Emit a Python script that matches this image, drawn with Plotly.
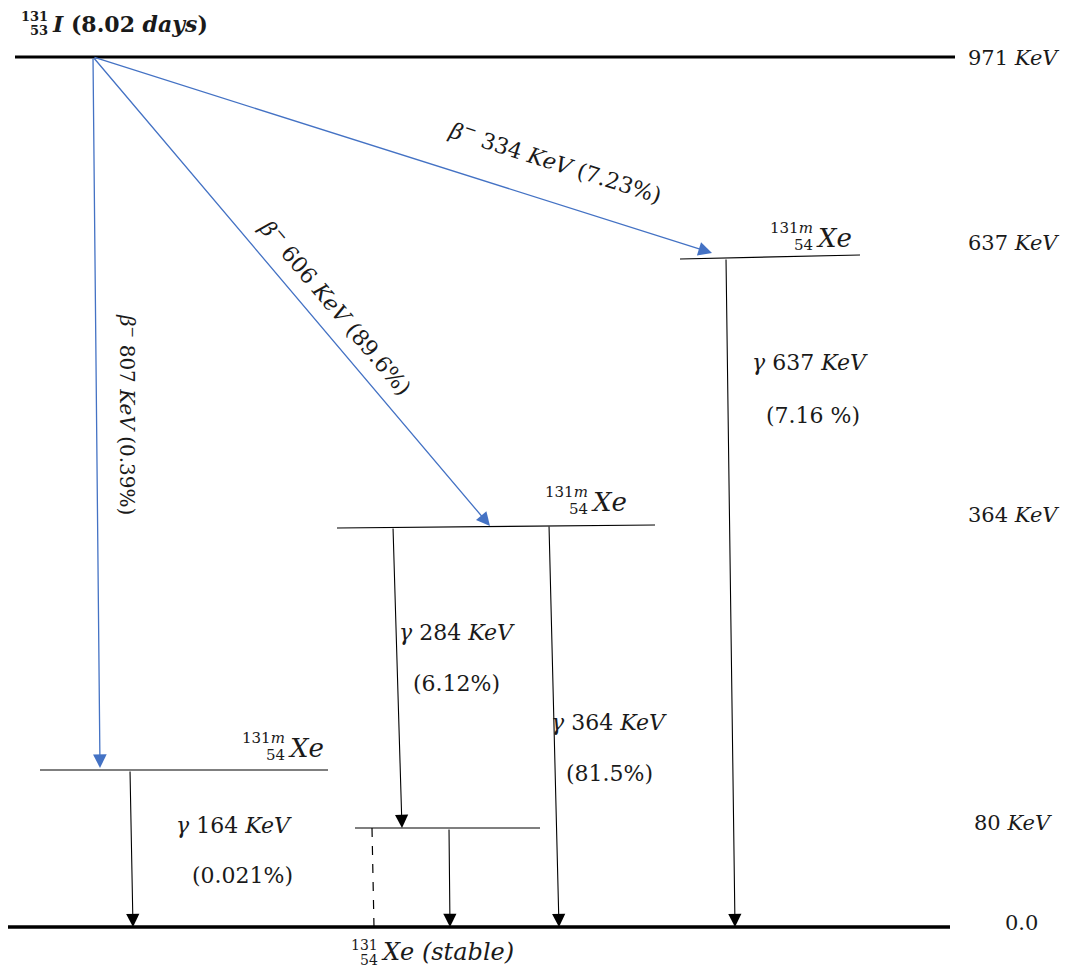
import plotly.graph_objects as go

# ---- data ----
parent_mass, parent_z, parent_symbol, parent_halflife = 131, 53, "I", "8.02 days"
daughter_mass, daughter_z, daughter_symbol = 131, 54, "Xe"
level_labels = ["971 KeV", "637 KeV", "364 KeV", "80 KeV", "0.0"]
beta_energies = [807, 606, 334]
beta_intensities = ["0.39%", "89.6%", "7.23%"]
gamma_energies = [637, 284, 364, 164]
gamma_intensities = ["7.16 %", "6.12%", "81.5%", "0.021%"]

# ---- layout of the scheme (diagram coordinates = page pixels) ----
FONT = "DejaVu Serif"
TXT = "#1a1a1a"
BLUE = "#4472C4"
PAGE_MARGIN = 8  # default body margin of the html page

# level lines: (x0, y0, x1, y1, width)
lvl = {
    "971": (15, 57, 955, 57, 3),
    "637": (680, 259, 860, 255, 1.2),
    "364": (337, 528, 655, 525, 1.2),
    "164": (40, 770, 328, 770, 1.2),
    "80": (355, 828, 540, 828, 1.2),
    "0": (8, 927, 950, 927, 3.5),
}
label_y = [58, 243, 515, 823, 923]
label_x = [1013, 1013, 1013, 1013, 1021]

fig = go.Figure()
fig.add_trace(go.Scatter(x=[PAGE_MARGIN, 1070], y=[PAGE_MARGIN, 970], mode="markers",
                         marker=dict(opacity=0), hoverinfo="skip", showlegend=False))

shapes = []
for k, (x0, y0, x1, y1, w) in lvl.items():
    shapes.append(dict(type="line", x0=x0, y0=y0, x1=x1, y1=y1,
                       line=dict(color="black", width=w), xref="x", yref="y"))
# dashed line from 80 keV level to ground
shapes.append(dict(type="line", x0=372, y0=828, x1=374, y1=927,
                   line=dict(color="black", width=1.2, dash="dash"), xref="x", yref="y"))

ann = []

def arrow(x0, y0, x1, y1, color, width, size):
    ann.append(dict(x=x1, y=y1, ax=x0, ay=y0, xref="x", yref="y", axref="x", ayref="y",
                    text="", showarrow=True, arrowhead=2, arrowsize=size,
                    arrowwidth=width, arrowcolor=color, standoff=0))

def text(x, y, s, size=21, angle=0, xanchor="center", color=TXT):
    ann.append(dict(x=x, y=y, xref="x", yref="y", text=s, showarrow=False,
                    textangle=angle, xanchor=xanchor, yanchor="middle",
                    font=dict(family=FONT, size=size, color=color)))

# beta arrows (blue) from the parent level
ox, oy = 93, 57
beta_heads = [(100, 768), (490, 526), (712, 253)]
for (hx, hy) in beta_heads:
    arrow(ox, oy, hx, hy, BLUE, 1.3, 2.1)

beta_text_pos = [(128, 414, 90, 20), (336, 306, 49.8, 22), (555, 161, 17.6, 22)]
for (e, i, (tx, ty, a, fs)) in zip(beta_energies, beta_intensities, beta_text_pos):
    text(tx, ty, f"<i>β</i><sup>−</sup> {e} <i>KeV</i> ({i})", size=fs, angle=a)

# gamma arrows (black)
gamma_lines = [(726, 258, 735, 927), (393, 527, 402, 828), (549, 525, 559, 927), (130, 770, 133, 927)]
for (x0, y0, x1, y1) in gamma_lines:
    arrow(x0, y0, x1, y1, "black", 1.1, 2.4)
# 80 keV gamma
arrow(449, 828, 450, 927, "black", 1.1, 2.4)

gamma_text_pos = [(810, 362, 813, 415), (457, 632, 456, 683), (609, 722, 609, 773), (234, 825, 242, 875)]
for (e, i, (ex, ey, ix, iy)) in zip(gamma_energies, gamma_intensities, gamma_text_pos):
    text(ex, ey, f"<i>γ</i> {e} <i>KeV</i>", size=22)
    text(ix, iy, f"({i})", size=22)

# level energy labels
for s, x, y in zip(level_labels, label_x, label_y):
    parts = s.split(" ")
    s_fmt = parts[0] + (" <i>" + parts[1] + "</i>" if len(parts) > 1 else "")
    text(x, y, s_fmt, size=21)

# parent nuclide label
hl_num, hl_unit = parent_halflife.split(" ")
text(50, 16, f"<b>{parent_mass}</b>", size=13, xanchor="right")
text(50, 30, f"<b>{parent_z}</b>", size=13, xanchor="right")
text(50, 24, f"<b><i>{parent_symbol}</i> ({hl_num} <i>{hl_unit}</i>)</b>", size=22, xanchor="left")

# metastable xenon labels
for (x, y) in [(815, 238), (590, 502), (287, 748)]:
    text(x, y - 10, f"{daughter_mass}<i>m</i>", size=15, xanchor="right")
    text(x, y + 7, f"{daughter_z}", size=15, xanchor="right")
    text(x - 1, y, f"<i>{daughter_symbol}</i>", size=26, xanchor="left")

# stable xenon label
text(380, 945, f"{daughter_mass}", size=14, xanchor="right")
text(380, 960, f"{daughter_z}", size=14, xanchor="right")
text(379, 952, f"<i>{daughter_symbol} (stable)</i>", size=24, xanchor="left")

fig.update_layout(
    width=1070 - PAGE_MARGIN, height=970 - PAGE_MARGIN, margin=dict(l=0, r=0, t=0, b=0),
    paper_bgcolor="white", plot_bgcolor="white",
    xaxis=dict(range=[PAGE_MARGIN, 1070], visible=False, fixedrange=True),
    yaxis=dict(range=[970, PAGE_MARGIN], visible=False, fixedrange=True),
    shapes=shapes, annotations=ann, showlegend=False,
)
fig.write_html("out.html")
